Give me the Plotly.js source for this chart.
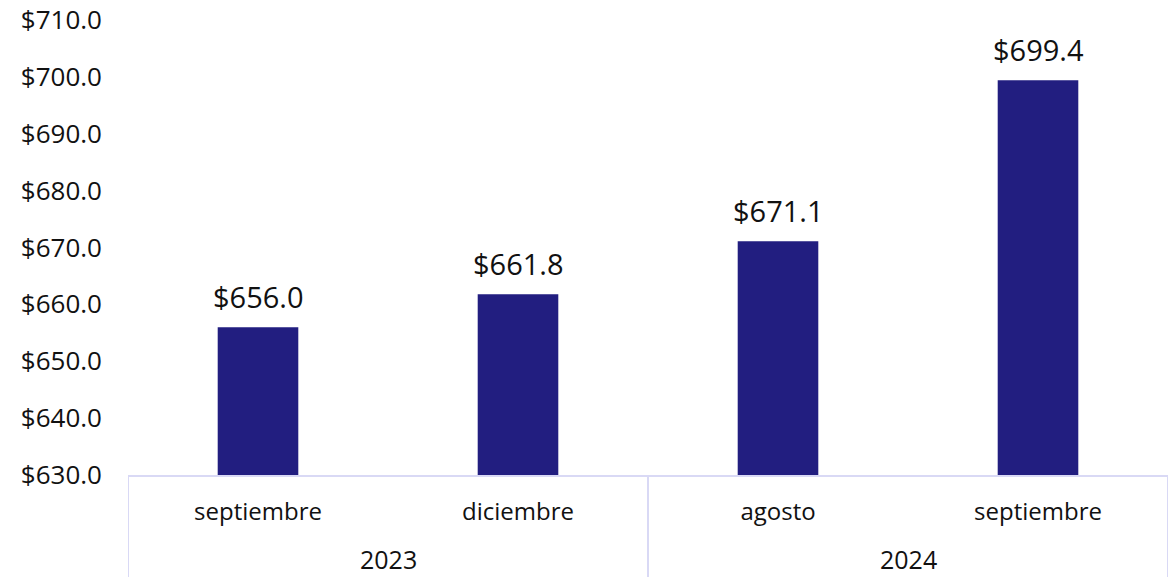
<!DOCTYPE html>
<html><head><meta charset="utf-8">
<script src="https://cdn.plot.ly/plotly-3.0.1.min.js"></script>
<style>html,body{margin:0;padding:0;background:#fff;}#chart{width:1176px;height:577px;}</style>
</head><body><div id="chart"></div>
<script>
var years = ["2023", "2023", "2024", "2024"];
var months = ["septiembre", "diciembre", "agosto", "septiembre"];
var values = [656.0, 661.8, 671.1, 699.4];
var labels = ["$656.0", "$661.8", "$671.1", "$699.4"];
var yTicks = [630, 640, 650, 660, 670, 680, 690, 700, 710];
var yTickText = yTicks.map(function(v){return "$" + v.toFixed(1);});

var FONT = "'Open Sans', Lato, sans-serif";
var LINE = "#d9d9f5";
var idx = values.map(function(_, i){return i;});

// groups derived from the years array
var groups = [];
years.forEach(function(y, i){
  var g = groups.length ? groups[groups.length - 1] : null;
  if (!g || g.name !== y) groups.push({name: y, start: i, end: i});
  else g.end = i;
});

var trace = {
  type: "bar",
  x: idx,
  y: values,
  marker: {color: "#221e80"},
  hoverinfo: "skip"
};

var annotations = values.map(function(v, i){
  return {x: i, y: v, xref: "x", yref: "y", text: labels[i],
    showarrow: false, yanchor: "bottom", yshift: 9,
    font: {family: FONT, size: 29, color: "#111"}};
});
groups.forEach(function(g){
  annotations.push({x: (g.start + g.end) / 2, y: 0, xref: "x", yref: "paper",
    text: g.name, showarrow: false, yanchor: "middle", yshift: -84, borderpad: 0,
    font: {family: FONT, size: 25, color: "#111"}});
});

var shapes = [];
var bounds = [groups[0].start - 0.5].concat(groups.map(function(g){return g.end + 0.5;}));
bounds.forEach(function(b){
  shapes.push({type: "line", xref: "x", yref: "paper", x0: b, x1: b, y0: 0, y1: -0.3,
    line: {color: LINE, width: 2}});
});

var layout = {
  width: 1176, height: 577,
  margin: {l: 128, r: 8, t: 20, b: 102},
  paper_bgcolor: "#fff", plot_bgcolor: "#fff",
  bargap: 0.69,
  showlegend: false,
  font: {family: FONT, size: 24, color: "#111"},
  xaxis: {
    range: [-0.5, values.length - 0.5],
    tickvals: idx, ticktext: months,
    showline: true, linecolor: LINE, linewidth: 2,
    tickfont: {family: FONT, size: 24, color: "#111"},
    ticks: "", showgrid: false, zeroline: false,
    ticklabelstandoff: 14
  },
  yaxis: {
    range: [630, 710],
    tickvals: yTicks, ticktext: yTickText,
    tickfont: {family: FONT, size: 26, color: "#111"},
    showgrid: false, zeroline: false, showline: false,
    ticks: "", ticklabelstandoff: 25
  },
  shapes: shapes,
  annotations: annotations
};
Plotly.newPlot("chart", [trace], layout, {displayModeBar: false, staticPlot: true});
</script></body></html>
